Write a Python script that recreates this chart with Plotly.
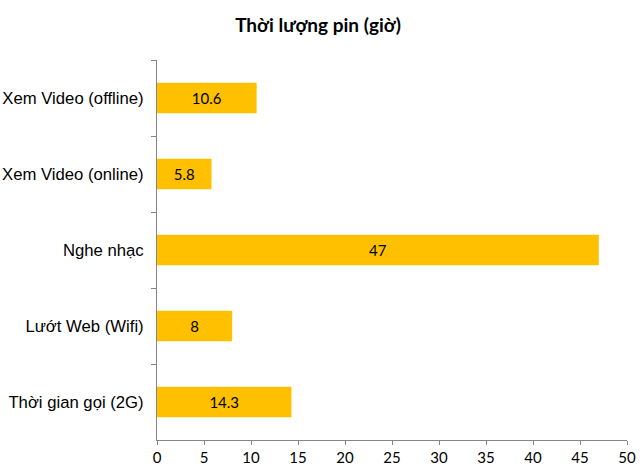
import plotly.graph_objects as go

categories = ["Xem Video (offline)", "Xem Video (online)", "Nghe nhạc", "Lướt Web (Wifi)", "Thời gian gọi (2G)"]
values = [10.6, 5.8, 47, 8, 14.3]
labels = ["10.6", "5.8", "47", "8", "14.3"]
x_ticks = [0, 5, 10, 15, 20, 25, 30, 35, 40, 45, 50]

W, H = 640, 473

fig = go.Figure(go.Bar(
    x=values, y=categories, orientation="h",
    marker=dict(color="#FFC000", line=dict(width=0)),
    width=0.4,
    text=labels, textposition="inside", insidetextanchor="middle",
    textangle=0,
    textfont=dict(family="Lato, Open Sans, sans-serif", size=15, color="#000000"),
    hoverinfo="skip",
))

fig.update_layout(
    width=W, height=H,
    margin=dict(l=157, r=13, t=60, b=33),
    paper_bgcolor="white", plot_bgcolor="white",
    title=dict(text="<b>Thời lượng pin (giờ)</b>", x=318 / W, xanchor="center", y=1 - 25 / H, yanchor="middle",
               font=dict(family="Lato, Open Sans, sans-serif", size=19, color="#000000")),
    showlegend=False,
    uniformtext=dict(mode=False),
)
fig.update_xaxes(
    range=[0, 50], tickvals=x_ticks, ticktext=[str(v) for v in x_ticks],
    showgrid=False, zeroline=False, showline=True, linecolor="#868686", linewidth=1,
    ticks="outside", ticklen=4, tickcolor="#868686", automargin=False,
    tickfont=dict(family="Lato, Open Sans, sans-serif", size=15, color="#000000"),
)
fig.update_yaxes(
    autorange="reversed", showgrid=False, zeroline=False, showline=True, linecolor="#868686", linewidth=1,
    ticks="outside", ticklen=5, tickcolor="#868686", tickson="boundaries", automargin=False,
    ticklabelstandoff=9,
    tickfont=dict(family="Liberation Sans, Arial, sans-serif", size=16.7, color="#000000"),
)
fig.write_html("out.html", config={"displayModeBar": False, "staticPlot": True},
               post_script="document.body.style.margin='0';")
